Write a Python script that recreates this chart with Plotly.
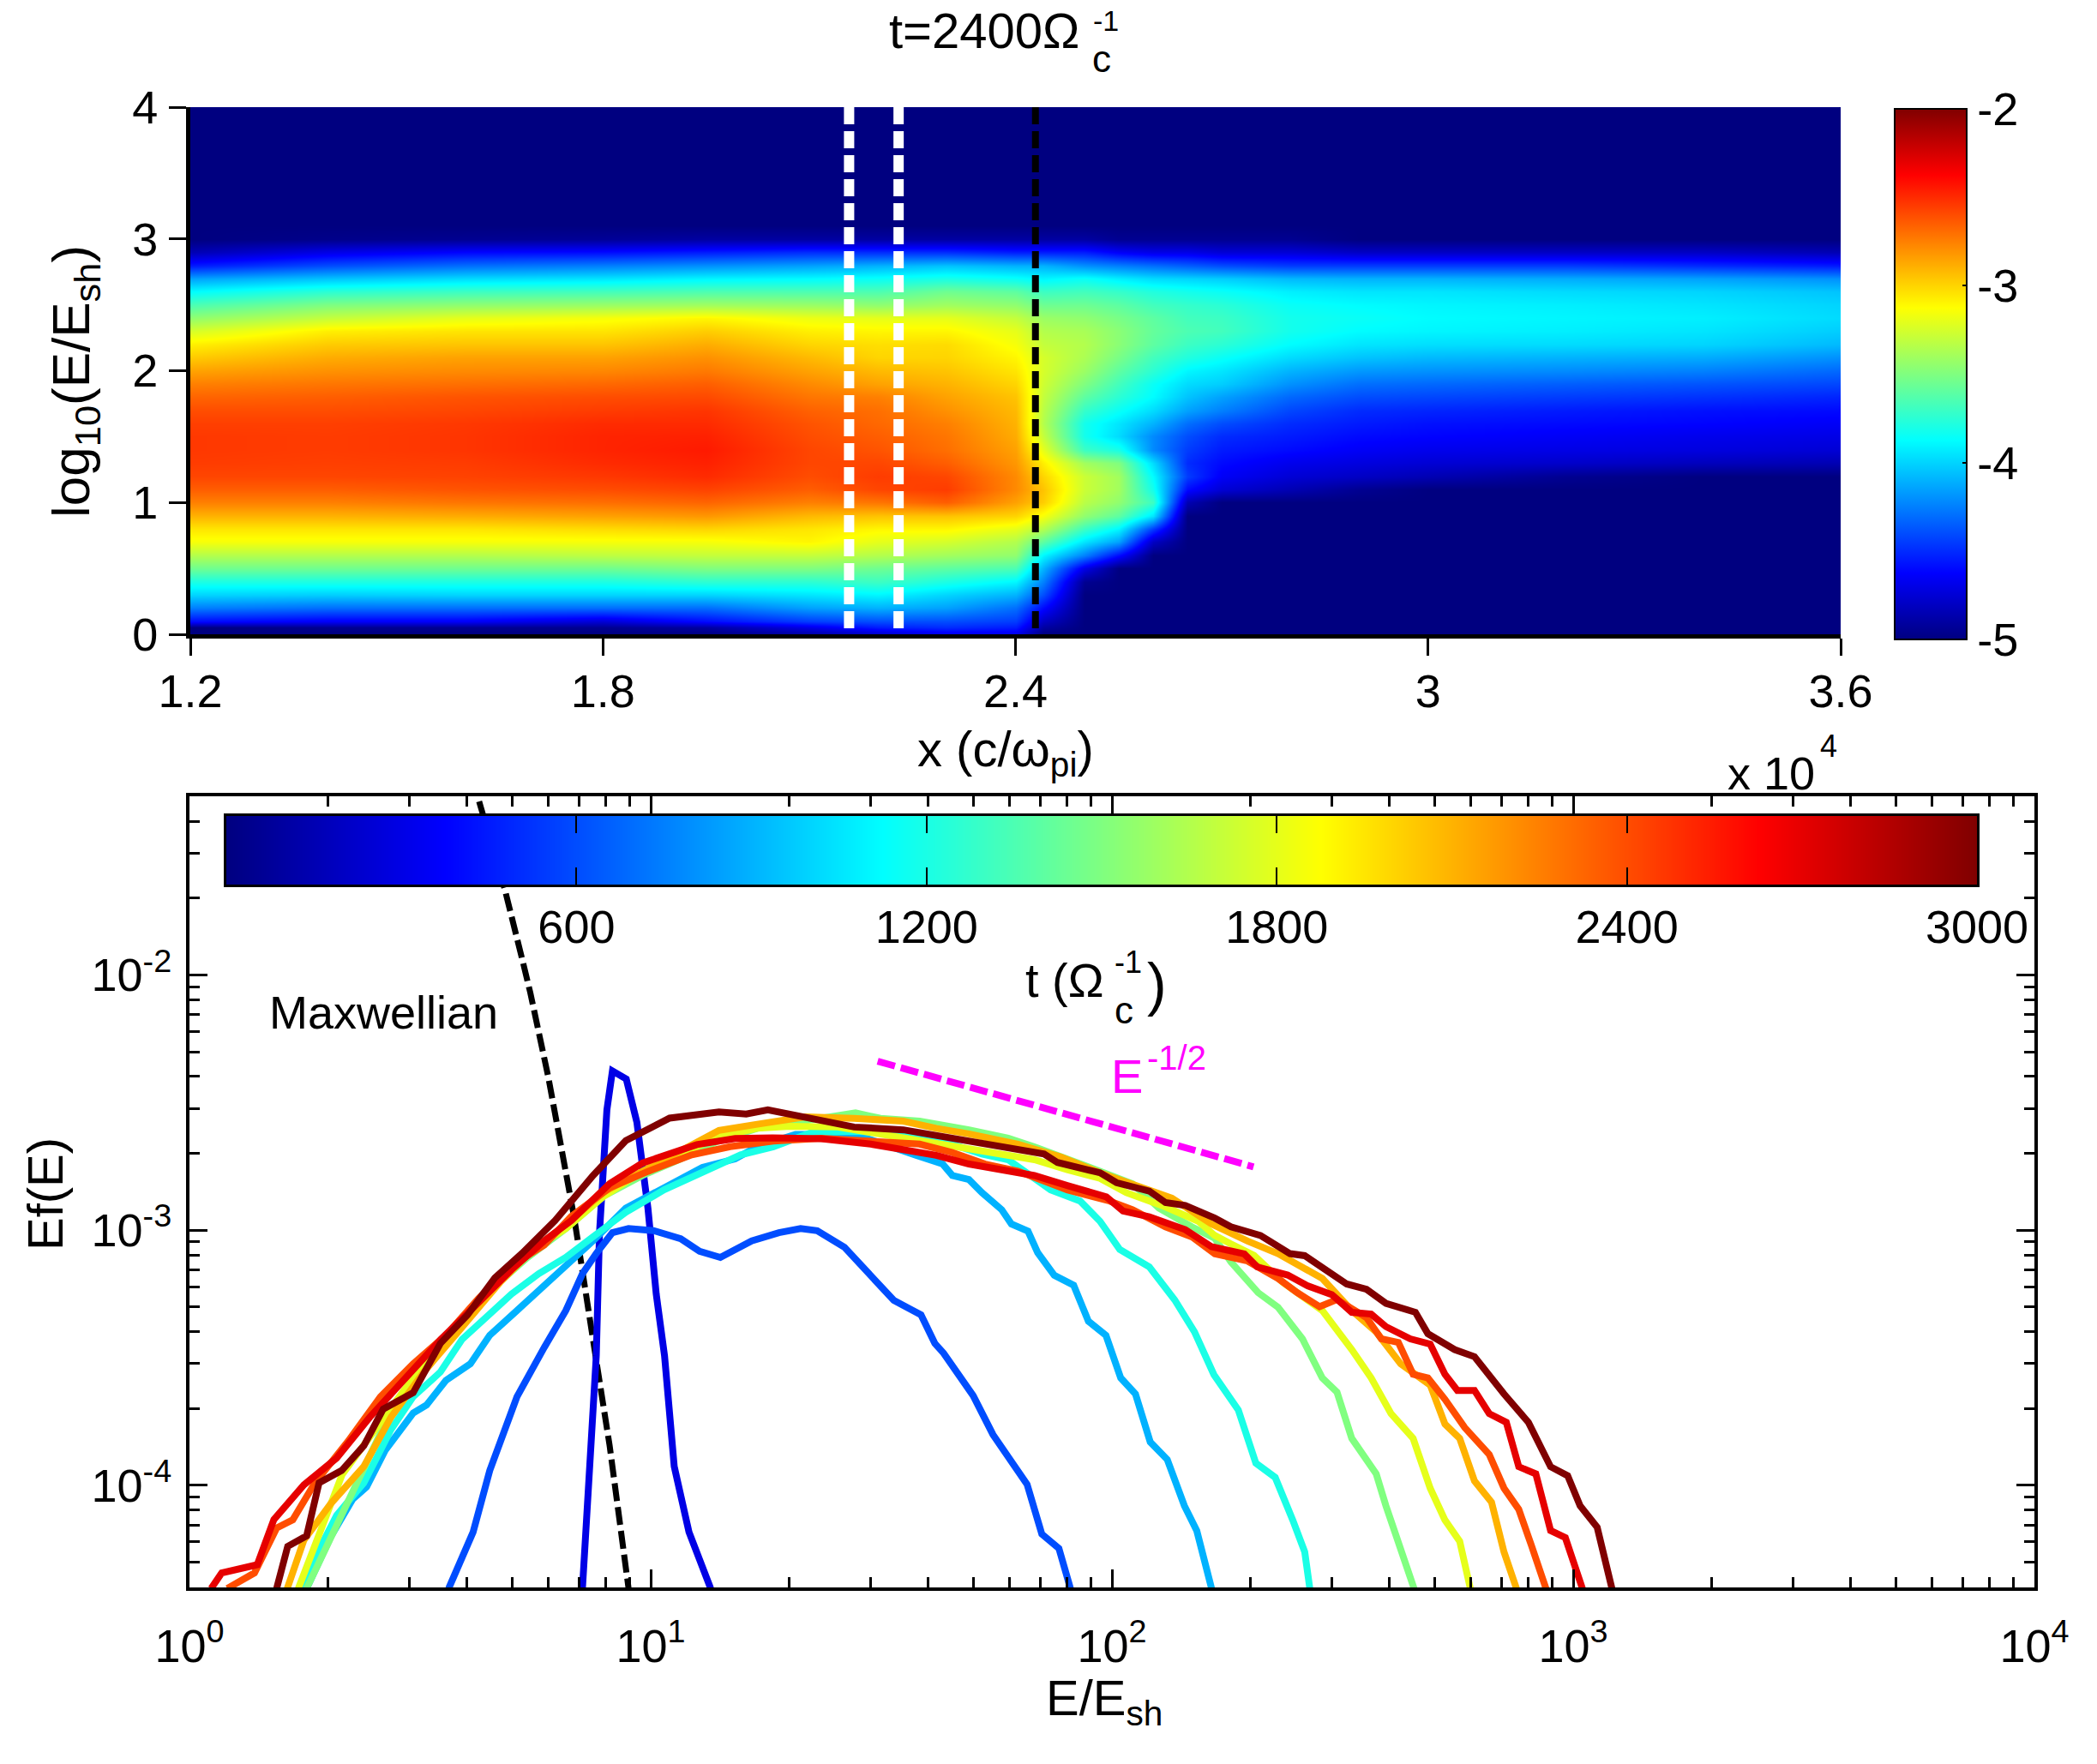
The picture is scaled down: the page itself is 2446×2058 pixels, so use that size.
import numpy as np
import plotly.graph_objects as go

W, H = 2446, 2058
FONT = "Liberation Sans"

# ---------- heat map values: log10 of the colour value, one list per x column ----------
x_cols = [1.2, 1.4, 1.6, 1.8, 1.95, 2.1, 2.2, 2.3, 2.4, 2.44, 2.5, 2.55, 2.6, 2.65, 2.7, 2.8, 2.9, 3.0, 3.2, 3.4, 3.6]
y_rows = [0, .05, .1, .2, .3, .4, .5, .6, .7, .8, .9, 1, 1.1, 1.2, 1.3, 1.4, 1.5, 1.6, 1.7, 1.8, 1.9, 2, 2.1, 2.2, 2.3, 2.4, 2.5, 2.6, 2.7, 2.8, 2.9, 3, 3.1, 4]
z_columns = [
 [-5,-5,-4.6,-4.25,-4.0,-3.8,-3.55,-3.35,-3.15,-3.05,-2.9,-2.75,-2.65,-2.58,-2.55,-2.54,-2.54,-2.56,-2.6,-2.67,-2.75,-2.85,-2.97,-3.08,-3.25,-3.45,-3.65,-3.88,-4.15,-4.55,-4.85,-5,-5,-5],
 [-5,-4.95,-4.65,-4.3,-4.02,-3.8,-3.55,-3.35,-3.15,-3.05,-2.9,-2.75,-2.65,-2.58,-2.56,-2.55,-2.55,-2.56,-2.6,-2.65,-2.72,-2.8,-2.88,-2.97,-3.08,-3.3,-3.5,-3.75,-4.05,-4.4,-4.7,-4.97,-5,-5],
 [-5,-4.95,-4.65,-4.3,-4.0,-3.8,-3.55,-3.35,-3.15,-3.05,-2.88,-2.72,-2.62,-2.57,-2.55,-2.53,-2.53,-2.54,-2.58,-2.62,-2.7,-2.78,-2.85,-2.95,-3.05,-3.2,-3.45,-3.7,-3.98,-4.3,-4.62,-4.95,-5,-5],
 [-5,-4.95,-4.75,-4.3,-4.0,-3.8,-3.55,-3.32,-3.15,-3.02,-2.85,-2.7,-2.6,-2.54,-2.5,-2.48,-2.48,-2.5,-2.55,-2.6,-2.68,-2.77,-2.85,-2.95,-3.05,-3.15,-3.42,-3.68,-3.95,-4.25,-4.6,-4.93,-5,-5],
 [-5,-4.9,-4.6,-4.3,-4.0,-3.75,-3.5,-3.3,-3.15,-3.0,-2.82,-2.67,-2.57,-2.5,-2.47,-2.45,-2.47,-2.5,-2.53,-2.59,-2.65,-2.73,-2.8,-2.88,-2.98,-3.1,-3.4,-3.65,-3.9,-4.2,-4.55,-4.9,-5,-5],
 [-4.9,-4.7,-4.45,-4.15,-3.95,-3.75,-3.5,-3.3,-3.1,-3.05,-2.92,-2.75,-2.65,-2.6,-2.58,-2.58,-2.6,-2.62,-2.66,-2.72,-2.78,-2.85,-2.92,-3.0,-3.08,-3.18,-3.42,-3.65,-3.88,-4.15,-4.5,-4.9,-5,-5],
 [-4.8,-4.55,-4.4,-4.1,-3.9,-3.7,-3.55,-3.35,-3.2,-3.1,-2.95,-2.72,-2.58,-2.55,-2.58,-2.62,-2.65,-2.68,-2.7,-2.75,-2.85,-2.92,-3.0,-3.03,-3.1,-3.2,-3.45,-3.65,-3.85,-4.1,-4.5,-4.9,-5,-5],
 [-4.7,-4.5,-4.4,-4.15,-4.0,-3.8,-3.6,-3.4,-3.25,-3.1,-2.95,-2.65,-2.55,-2.58,-2.65,-2.7,-2.72,-2.75,-2.8,-2.85,-2.9,-2.95,-3.0,-3.02,-3.1,-3.2,-3.4,-3.55,-3.8,-4.05,-4.5,-4.9,-5,-5],
 [-4.7,-4.55,-4.45,-4.3,-4.1,-3.9,-3.65,-3.45,-3.35,-3.2,-3.0,-2.85,-2.78,-2.78,-2.82,-2.85,-2.88,-2.9,-2.92,-2.95,-3.0,-3.05,-3.1,-3.15,-3.2,-3.3,-3.45,-3.6,-3.85,-4.1,-4.55,-4.9,-5,-5],
 [-5,-4.9,-4.8,-4.6,-4.4,-4.25,-4.1,-3.9,-3.6,-3.35,-3.15,-2.98,-2.95,-3.0,-3.08,-3.2,-3.3,-3.35,-3.33,-3.3,-3.27,-3.25,-3.25,-3.3,-3.35,-3.42,-3.55,-3.7,-3.9,-4.1,-4.55,-4.9,-5,-5],
 [-5,-5,-5,-5,-5,-4.95,-4.7,-4.25,-3.95,-3.7,-3.45,-3.33,-3.28,-3.28,-3.4,-3.7,-3.82,-3.82,-3.72,-3.6,-3.5,-3.42,-3.37,-3.35,-3.38,-3.45,-3.55,-3.68,-3.85,-4.2,-4.55,-4.9,-5,-5],
 [-5,-5,-5,-5,-5,-5,-5,-4.6,-4.15,-3.9,-3.6,-3.45,-3.4,-3.4,-3.5,-3.8,-3.98,-3.95,-3.85,-3.75,-3.68,-3.6,-3.52,-3.47,-3.47,-3.52,-3.6,-3.72,-3.92,-4.25,-4.65,-4.95,-5,-5],
 [-5,-5,-5,-5,-5,-5,-5,-5,-4.8,-4.45,-3.95,-3.7,-3.82,-3.88,-3.98,-4.22,-4.22,-4.1,-3.98,-3.88,-3.85,-3.75,-3.68,-3.6,-3.58,-3.6,-3.68,-3.78,-3.98,-4.3,-4.7,-4.95,-5,-5],
 [-5,-5,-5,-5,-5,-5,-5,-5,-5,-5,-5,-4.85,-4.6,-4.45,-4.5,-4.45,-4.4,-4.3,-4.15,-4.05,-3.98,-3.9,-3.78,-3.7,-3.65,-3.68,-3.72,-3.82,-4.0,-4.35,-4.7,-4.95,-5,-5],
 [-5,-5,-5,-5,-5,-5,-5,-5,-5,-5,-5,-5,-4.75,-4.65,-4.6,-4.55,-4.5,-4.4,-4.25,-4.15,-4.02,-3.95,-3.85,-3.75,-3.68,-3.7,-3.75,-3.85,-4.02,-4.4,-4.75,-4.95,-5,-5],
 [-5,-5,-5,-5,-5,-5,-5,-5,-5,-5,-5,-5,-4.85,-4.75,-4.68,-4.6,-4.55,-4.5,-4.42,-4.32,-4.2,-4.1,-3.98,-3.88,-3.82,-3.82,-3.85,-3.92,-4.08,-4.45,-4.75,-4.95,-5,-5],
 [-5,-5,-5,-5,-5,-5,-5,-5,-5,-5,-5,-5,-4.95,-4.8,-4.72,-4.65,-4.6,-4.55,-4.5,-4.4,-4.3,-4.18,-4.05,-3.95,-3.88,-3.85,-3.88,-3.95,-4.1,-4.45,-4.8,-5,-5,-5],
 [-5,-5,-5,-5,-5,-5,-5,-5,-5,-5,-5,-5,-5,-4.85,-4.75,-4.68,-4.62,-4.58,-4.52,-4.42,-4.32,-4.2,-4.08,-3.97,-3.9,-3.88,-3.9,-3.95,-4.1,-4.45,-4.8,-5,-5,-5],
 [-5,-5,-5,-5,-5,-5,-5,-5,-5,-5,-5,-5,-5,-4.95,-4.78,-4.7,-4.65,-4.6,-4.55,-4.45,-4.35,-4.22,-4.1,-3.98,-3.92,-3.9,-3.92,-3.98,-4.12,-4.45,-4.8,-5,-5,-5],
 [-5,-5,-5,-5,-5,-5,-5,-5,-5,-5,-5,-5,-5,-5,-4.82,-4.72,-4.68,-4.62,-4.58,-4.48,-4.38,-4.25,-4.12,-4.0,-3.95,-3.92,-3.95,-4.0,-4.15,-4.5,-4.8,-5,-5,-5],
 [-5,-5,-5,-5,-5,-5,-5,-5,-5,-5,-5,-5,-5,-5,-4.85,-4.75,-4.7,-4.65,-4.6,-4.52,-4.42,-4.32,-4.2,-4.08,-4.02,-3.98,-4.0,-4.05,-4.2,-4.55,-4.85,-5,-5,-5],
]
shock_lines_x = [2.158, 2.230]
shock_black_x = [2.429]
heat_xticks = [1.2, 1.8, 2.4, 3, 3.6]
heat_xticktext = ["1.2", "1.8", "2.4", "3", "3.6"]
heat_yticks = [0, 1, 2, 3, 4]
cbar_ticks = [-5, -4, -3, -2]

# ---------- spectra: log10(E/Esh), log10(Ef(E)) ----------
t_values = [300, 600, 900, 1200, 1500, 1800, 2100, 2400, 2700, 3000]
t_colors = ["#0000E6", "#004DFF", "#00B2FF", "#1AFFE6", "#80FF80", "#E6FF1A", "#FFB200", "#FF4D00", "#E60000", "#800000"]

e_300 = [.852,.866,.882,.889,.905,.917,.947,.970,.994,1.012,1.030,1.051,1.083,1.130]
f_300 = [-4.404,-3.974,-3.492,-3.010,-2.529,-2.376,-2.408,-2.577,-2.914,-3.251,-3.492,-3.926,-4.183,-4.404]

e_600 = [.562,.615,.651,.710,.769,.816,.852,.882,.917,.952,1.006,1.065,1.106,1.151,1.219,1.278,1.325,1.361,1.420,1.479,1.527,1.586,1.616,1.635,1.699,1.742,1.816,1.848,1.885,1.910]
f_600 = [-4.404,-4.183,-3.942,-3.653,-3.460,-3.315,-3.171,-3.091,-3.010,-2.994,-3.002,-3.034,-3.083,-3.107,-3.042,-3.010,-2.994,-3.002,-3.067,-3.187,-3.275,-3.332,-3.444,-3.482,-3.648,-3.801,-3.996,-4.191,-4.247,-4.404]

e_900 = [.254,.307,.354,.384,.425,.485,.514,.556,.609,.651,.710,.769,.816,.875,.946,1.029,1.112,1.183,1.231,1.314,1.444,1.576,1.633,1.654,1.690,1.718,1.761,1.782,1.818,1.839,1.875,1.917,1.949,1.987,2.019,2.051,2.083,2.120,2.157,2.184,2.216]
f_900 = [-4.404,-4.199,-4.054,-4.006,-3.861,-3.717,-3.685,-3.589,-3.524,-3.412,-3.315,-3.219,-3.139,-3.042,-2.914,-2.834,-2.754,-2.721,-2.673,-2.625,-2.625,-2.707,-2.741,-2.786,-2.802,-2.853,-2.920,-2.976,-3.004,-3.088,-3.177,-3.216,-3.357,-3.412,-3.579,-3.642,-3.830,-3.899,-4.080,-4.178,-4.404]

e_1200 = [.238,.319,.378,.437,.485,.544,.591,.639,.698,.757,.816,.875,.946,1.029,1.112,1.195,1.266,1.349,1.444,1.548,1.633,1.718,1.775,1.867,1.931,1.974,2.017,2.081,2.136,2.179,2.221,2.274,2.312,2.354,2.392,2.418,2.429]
f_1200 = [-4.404,-4.118,-3.990,-3.781,-3.653,-3.556,-3.428,-3.348,-3.251,-3.171,-3.107,-3.026,-2.930,-2.842,-2.770,-2.705,-2.673,-2.617,-2.612,-2.623,-2.651,-2.702,-2.724,-2.842,-2.886,-2.965,-3.076,-3.144,-3.273,-3.399,-3.566,-3.705,-3.913,-3.969,-4.136,-4.261,-4.404]

e_1500 = [.254,.307,.366,.414,.473,.532,.591,.662,.733,.816,.899,.982,1.065,1.148,1.231,1.325,1.444,1.498,1.583,1.690,1.775,1.832,1.903,1.974,2.045,2.102,2.173,2.223,2.258,2.317,2.360,2.413,2.456,2.488,2.520,2.573,2.594,2.626,2.655]
f_1500 = [-4.404,-4.199,-3.974,-3.797,-3.620,-3.476,-3.348,-3.219,-3.107,-2.994,-2.866,-2.786,-2.721,-2.649,-2.601,-2.577,-2.540,-2.562,-2.573,-2.607,-2.640,-2.674,-2.719,-2.769,-2.819,-2.914,-2.987,-3.032,-3.125,-3.245,-3.302,-3.426,-3.579,-3.635,-3.816,-3.955,-4.080,-4.261,-4.404]

e_1800 = [.236,.283,.331,.390,.449,.520,.591,.674,.745,.816,.899,.982,1.065,1.148,1.231,1.302,1.406,1.761,1.832,1.903,1.974,2.031,2.116,2.187,2.223,2.258,2.308,2.370,2.456,2.520,2.562,2.605,2.653,2.690,2.722,2.754,2.777]
f_1800 = [-4.404,-4.183,-3.958,-3.813,-3.669,-3.492,-3.348,-3.203,-3.075,-2.994,-2.866,-2.770,-2.705,-2.633,-2.601,-2.593,-2.596,-2.702,-2.724,-2.763,-2.797,-2.853,-2.909,-2.965,-3.021,-3.054,-3.099,-3.204,-3.315,-3.468,-3.579,-3.719,-3.816,-4.011,-4.136,-4.219,-4.404]

e_2100 = [.212,.248,.307,.378,.437,.508,.591,.674,.745,.816,.899,.982,1.065,1.148,1.231,1.335,1.441,1.548,1.619,1.690,1.796,1.889,1.974,2.045,2.130,2.216,2.294,2.360,2.456,2.520,2.573,2.626,2.690,2.722,2.754,2.786,2.823,2.850,2.877]
f_2100 = [-4.404,-4.215,-4.070,-3.926,-3.733,-3.556,-3.380,-3.203,-3.075,-2.978,-2.850,-2.770,-2.689,-2.609,-2.585,-2.556,-2.562,-2.573,-2.601,-2.623,-2.663,-2.713,-2.775,-2.819,-2.875,-2.976,-3.043,-3.092,-3.189,-3.315,-3.399,-3.524,-3.607,-3.760,-3.816,-3.983,-4.066,-4.261,-4.404]

e_2400 = [.082,.141,.189,.224,.272,.343,.414,.485,.556,.627,.698,.769,.828,.911,.994,1.089,1.172,1.266,1.370,1.512,1.583,1.654,1.725,1.796,1.903,1.995,2.045,2.116,2.173,2.223,2.294,2.360,2.402,2.450,2.488,2.552,2.584,2.621,2.653,2.685,2.722,2.765,2.818,2.850,2.882,2.909,2.941]
f_2400 = [-4.404,-4.343,-4.167,-4.135,-3.990,-3.829,-3.653,-3.524,-3.412,-3.267,-3.139,-3.059,-2.946,-2.834,-2.770,-2.705,-2.673,-2.651,-2.640,-2.651,-2.663,-2.696,-2.741,-2.769,-2.842,-2.886,-2.920,-2.987,-3.026,-3.093,-3.121,-3.189,-3.245,-3.300,-3.272,-3.343,-3.426,-3.440,-3.565,-3.579,-3.663,-3.774,-3.879,-4.011,-4.094,-4.233,-4.404]

e_2700 = [.047,.070,.147,.183,.248,.319,.391,.462,.545,.627,.698,.769,.828,.911,.982,1.100,1.183,1.264,1.370,1.477,1.548,1.619,1.690,1.761,1.832,1.903,1.988,2.024,2.081,2.159,2.216,2.287,2.315,2.381,2.424,2.477,2.520,2.562,2.594,2.647,2.690,2.722,2.749,2.786,2.818,2.855,2.882,2.919,2.951,2.983,3.005,3.020]
f_2700 = [-4.404,-4.343,-4.311,-4.134,-3.998,-3.893,-3.733,-3.589,-3.428,-3.283,-3.155,-3.042,-2.962,-2.818,-2.737,-2.665,-2.641,-2.638,-2.642,-2.663,-2.685,-2.707,-2.741,-2.763,-2.786,-2.825,-2.870,-2.925,-2.948,-2.998,-3.065,-3.093,-3.144,-3.176,-3.218,-3.253,-3.322,-3.329,-3.378,-3.426,-3.447,-3.565,-3.628,-3.628,-3.719,-3.753,-3.927,-3.955,-4.177,-4.205,-4.330,-4.404]

e_3000 = [.189,.213,.254,.281,.330,.378,.420,.485,.544,.603,.662,.721,.793,.875,.946,1.041,1.148,1.207,1.254,1.335,1.441,1.548,1.654,1.725,1.796,1.853,1.882,1.974,2.010,2.081,2.116,2.159,2.223,2.258,2.322,2.386,2.418,2.477,2.509,2.552,2.594,2.658,2.685,2.743,2.786,2.850,2.903,2.951,2.988,3.015,3.052,3.084]
f_3000 = [-4.404,-4.239,-4.198,-3.990,-3.942,-3.845,-3.701,-3.637,-3.444,-3.332,-3.187,-3.091,-2.962,-2.786,-2.649,-2.561,-2.537,-2.545,-2.529,-2.556,-2.596,-2.607,-2.640,-2.663,-2.685,-2.702,-2.735,-2.775,-2.814,-2.847,-2.892,-2.903,-2.953,-2.987,-3.021,-3.092,-3.100,-3.176,-3.211,-3.232,-3.287,-3.322,-3.406,-3.468,-3.496,-3.642,-3.753,-3.927,-3.962,-4.080,-4.164,-4.404]

e_list = [e_300, e_600, e_900, e_1200, e_1500, e_1800, e_2100, e_2400, e_2700, e_3000]
f_list = [f_300, f_600, f_900, f_1200, f_1500, f_1800, f_2100, f_2400, f_2700, f_3000]

e_maxw = [.628,.684,.723,.739,.778,.793,.834,.875,.911,.952]
f_maxw = [-1.32,-1.667,-1.95,-2.07,-2.40,-2.54,-2.95,-3.43,-3.845,-4.404]
e_slope = [1.492, 2.307]
f_slope = [-2.338, -2.752]

t_cbar = [0, 600, 1200, 1800, 2400, 3000]
t_cbar_ticks = [600, 1200, 1800, 2400, 3000]
spec_xticks = [1, 10, 100, 1000, 10000]
spec_xtext = ["10<sup>0</sup>", "10<sup>1</sup>", "10<sup>2</sup>", "10<sup>3</sup>", "10<sup>4</sup>"]
spec_yticks = [1e-4, 1e-3, 1e-2]
spec_ytext = ["10<sup>-4</sup>", "10<sup>-3</sup>", "10<sup>-2</sup>"]

JET = [[0, "#000080"], [.125, "#0000FF"], [.375, "#00FFFF"], [.625, "#FFFF00"], [.875, "#FF0000"], [1, "#800000"]]

def px(a, b):
    return [a / W, b / W]

def py(top, bottom):
    return [1 - bottom / H, 1 - top / H]

fig = go.Figure()

fig.add_trace(go.Heatmap(
    x=x_cols, y=y_rows, z=np.array(z_columns).T.tolist(), zmin=-5, zmax=-2, colorscale=JET,
    zsmooth="best", xaxis="x", yaxis="y", showscale=True,
    colorbar=dict(x=2210 / W, xanchor="left", xpad=0, thickness=84, thicknessmode="pixels",
                  y=1 - 746 / H, yanchor="bottom", ypad=0, len=(746 - 127.5) / H, lenmode="fraction",
                  outlinecolor="black", outlinewidth=2, borderwidth=0,
                  tickmode="array", tickvals=cbar_ticks, ticktext=[str(v) for v in cbar_ticks],
                  ticks="inside", ticklen=6, tickwidth=2, tickcolor="black",
                  tickfont=dict(family=FONT, size=54, color="black")),
))
for xv in shock_lines_x:
    fig.add_trace(go.Scatter(x=[xv, xv], y=[4, .036], mode="lines", xaxis="x", yaxis="y", showlegend=False,
                             line=dict(color="white", width=12, dash="20px,8px")))
for xv in shock_black_x:
    fig.add_trace(go.Scatter(x=[xv, xv], y=[4, .036], mode="lines", xaxis="x", yaxis="y", showlegend=False,
                             line=dict(color="black", width=8, dash="20px,8px")))

fig.add_trace(go.Scatter(x=10 ** np.array(e_maxw), y=10 ** np.array(f_maxw), mode="lines", xaxis="x2", yaxis="y2",
                         showlegend=False, line=dict(color="black", width=7, dash="21px,7px")))
for e, f, c, t in zip(e_list, f_list, t_colors, t_values):
    fig.add_trace(go.Scatter(x=10 ** np.array(e), y=10 ** np.array(f), mode="lines", xaxis="x2", yaxis="y2",
                             name=f"t={t}", showlegend=False, line=dict(color=c, width=8)))
fig.add_trace(go.Scatter(x=10 ** np.array(e_slope), y=10 ** np.array(f_slope), mode="lines", xaxis="x2", yaxis="y2",
                         showlegend=False, line=dict(color="#FF00FF", width=8, dash="21px,7px")))

fig.add_trace(go.Heatmap(x=t_cbar, y=[0, 1], z=[t_cbar, t_cbar], zmin=0, zmax=3000, colorscale=JET, zsmooth="best",
                         xaxis="x3", yaxis="y3", showscale=False))

tickfont = dict(family=FONT, size=54, color="black")

fig.update_layout(
    width=W, height=H, autosize=False, margin=dict(l=0, r=0, t=0, b=0, autoexpand=False),
    paper_bgcolor="white", plot_bgcolor="white", showlegend=False,
    font=dict(family=FONT, size=52, color="black"),
    xaxis=dict(domain=px(222, 2147), range=[1.2, 3.6], tickmode="array", tickvals=heat_xticks, ticktext=heat_xticktext,
               ticks="outside", ticklen=20, tickwidth=3, tickcolor="black", showline=True, linecolor="black", linewidth=5,
               showgrid=False, zeroline=False, tickfont=tickfont, anchor="y", ticklabelstandoff=-5),
    yaxis=dict(domain=py(125, 740), range=[0, 4], tickmode="array", tickvals=heat_yticks,
               ticks="outside", ticklen=20, tickwidth=3, tickcolor="black", showline=True, linecolor="black", linewidth=5,
               showgrid=False, zeroline=False, tickfont=tickfont, anchor="x", ticklabelstandoff=2),
    xaxis2=dict(type="log", domain=px(221, 2373), range=[0, 4], tickmode="array", tickvals=spec_xticks, ticktext=spec_xtext,
                ticks="inside", ticklen=21, tickwidth=3, tickcolor="black", showline=True, mirror="ticks", linecolor="black",
                linewidth=4, showgrid=False, zeroline=False, tickfont=tickfont, anchor="y2", ticklabelstandoff=18,
                minor=dict(ticks="inside", ticklen=12, tickwidth=3, tickcolor="black", dtick="D1", showgrid=False)),
    yaxis2=dict(type="log", domain=py(929, 1852), range=[-4.40, -1.30], tickmode="array", tickvals=spec_yticks, ticktext=spec_ytext,
                ticks="inside", ticklen=21, tickwidth=3, tickcolor="black", showline=True, mirror="ticks", linecolor="black",
                linewidth=4, showgrid=False, zeroline=False, tickfont=tickfont, anchor="x2", ticklabelstandoff=6,
                minor=dict(ticks="inside", ticklen=12, tickwidth=3, tickcolor="black", dtick="D1", showgrid=False)),
    xaxis3=dict(domain=px(264, 2306), range=[0, 3000], tickmode="array", tickvals=t_cbar_ticks,
                ticks="inside", ticklen=20, tickwidth=1.5, tickcolor="black", showline=True, mirror="ticks", linecolor="black",
                linewidth=3, showgrid=False, zeroline=False, tickfont=tickfont, anchor="y3", ticklabelstandoff=0),
    yaxis3=dict(domain=py(952, 1032), range=[0, 1], showticklabels=False, ticks="", showline=True, mirror=True,
                linecolor="black", linewidth=3, showgrid=False, zeroline=False, anchor="x3"),
)

def note(text, cx, cy, size=54, color="black", angle=0):
    fig.add_annotation(text=text, xref="paper", yref="paper", x=cx / W, y=1 - cy / H, xanchor="center", yanchor="middle",
                       showarrow=False, textangle=angle, font=dict(family=FONT, size=size, color=color))

note("t=2400Ω", 1148, 35, 58)
note("-1", 1290, 24, 34)
note("c", 1285, 68, 44)
note("log<sub>10</sub>(E/E<sub>sh</sub>)", 87, 445, 62, angle=-90)
note("x (c/ω<sub>pi</sub>)", 1173, 878, 58)
note("x 10", 2066, 902)
note("4", 2133, 870, 36)
note("t (Ω", 1242, 1143, 56)
note("-1", 1316, 1122, 36)
note("c", 1311, 1178, 44)
note(")", 1349, 1148, 68)
note("Maxwellian", 447, 1181)
note("E", 1314, 1255, 56, color="#FF00FF")
note("-1/2", 1372, 1234, 40, color="#FF00FF")
note("Ef(E)", 52, 1393, 58, angle=-90)
note("E/E<sub>sh</sub>", 1288, 1985, 58)

fig.write_html("out.html", config={"displayModeBar": False},
               post_script="document.body.style.margin='0';document.body.style.overflow='hidden';")
